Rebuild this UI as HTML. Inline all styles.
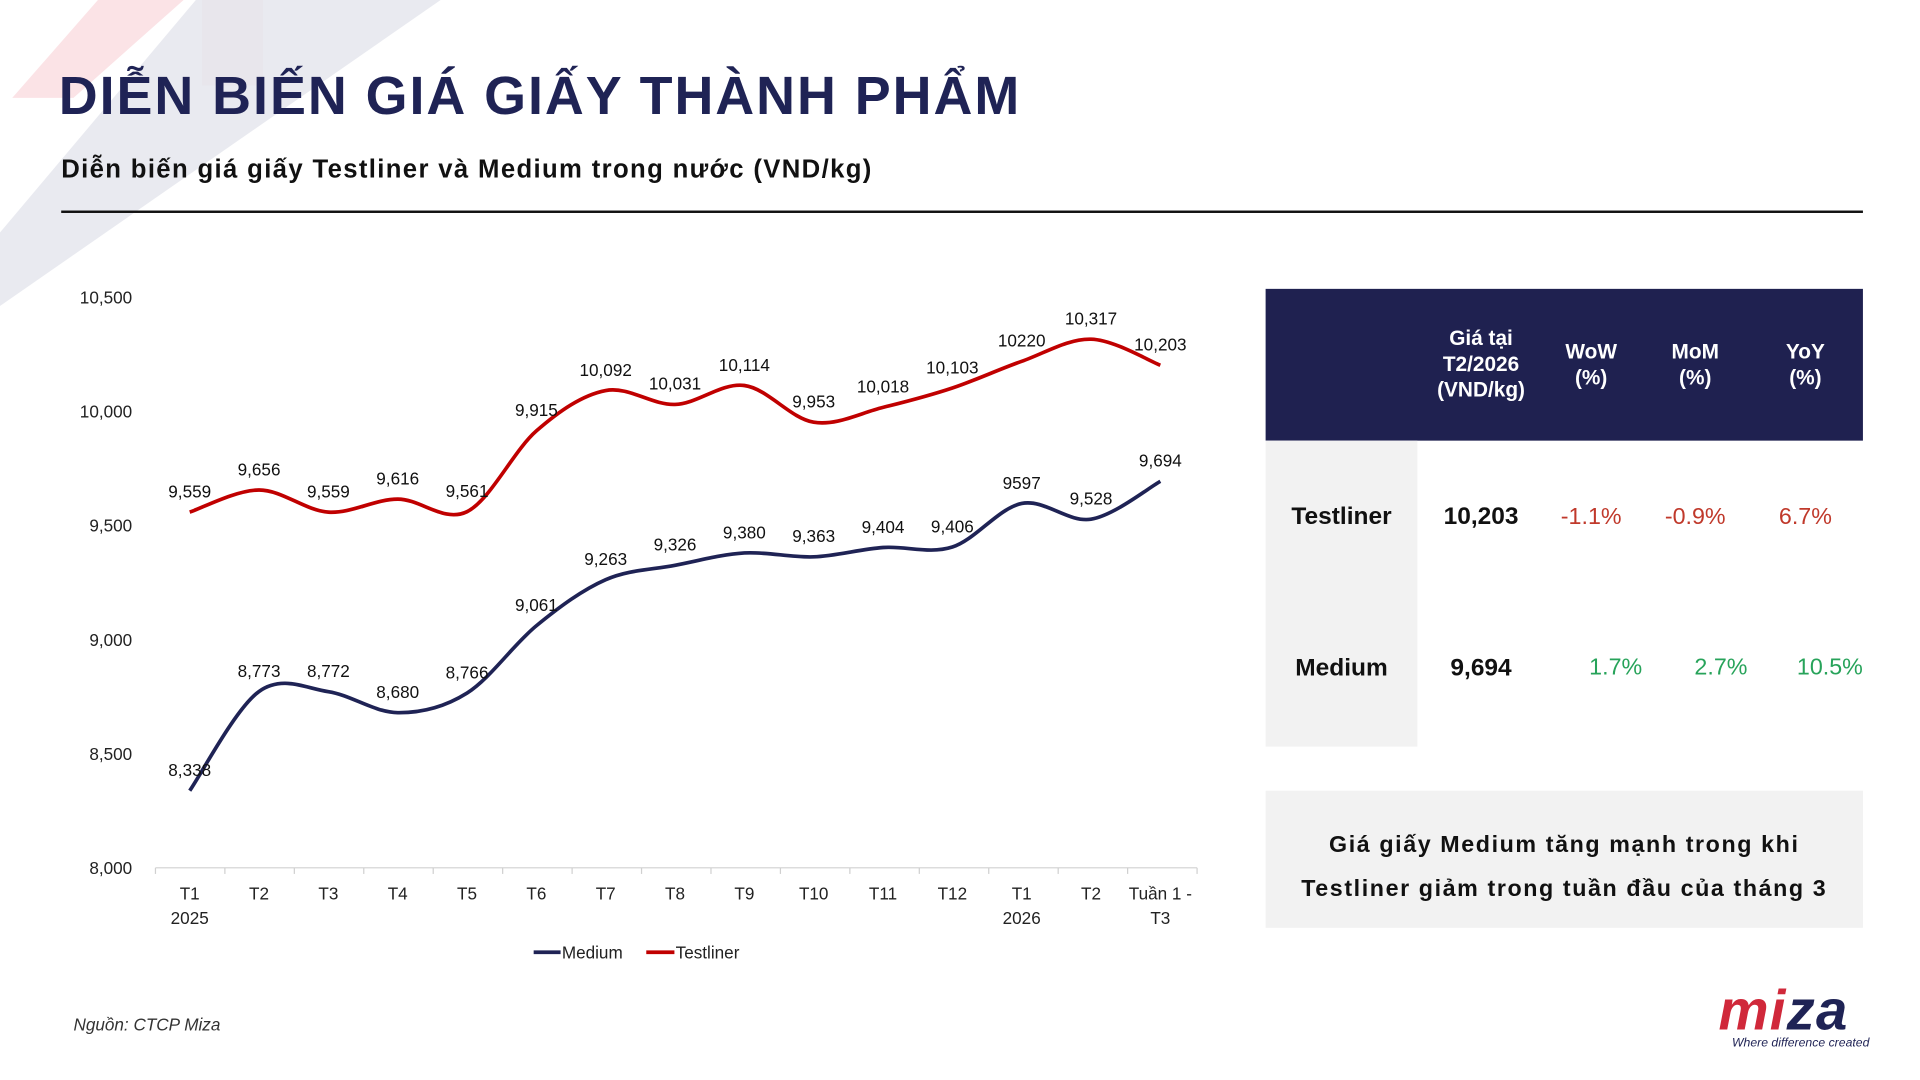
<!DOCTYPE html>
<html><head><meta charset="utf-8">
<style>
html,body{margin:0;padding:0;width:1920px;height:1080px;overflow:hidden;background:#fff;}
#wrap{position:absolute;left:0;top:0;width:1570px;height:882px;transform:scale(1.2240);transform-origin:0 0;font-family:"Liberation Sans",sans-serif;}
.abs{position:absolute;}
</style></head>
<body>
<div id="wrap">
<svg class="abs" style="left:0;top:0" width="400" height="260">
<polygon points="10,80 80,0 150,0 60,80" fill="#fbe3e6"/>
<polygon points="165,0 215,0 215,70 165,70" fill="#fbe3e6" opacity="0.7"/>
<polygon points="0,190 160,0 360,0 0,250" fill="#e4e5ec" opacity="0.8"/>
</svg>
<div class="abs" style="left:48px;top:54px;font-size:44px;font-weight:bold;color:#1f2355;letter-spacing:1.6px;white-space:nowrap">DIỄN BIẾN GIÁ GIẤY THÀNH PHẨM</div>
<div class="abs" style="left:50px;top:127px;font-size:21px;font-weight:bold;color:#111;letter-spacing:1.1px;white-space:nowrap">Diễn biến giá giấy Testliner và Medium trong nước (VND/kg)</div>
<div class="abs" style="left:50px;top:172px;width:1472px;height:2px;background:#111"></div>

<svg id="chart" class="abs" style="left:0;top:200px" width="1000" height="600"></svg>

<div class="abs" style="left:1034px;top:236px;width:488px;height:124px;background:#1f2150"></div>
<div class="abs" style="left:1160px;top:266px;width:100px;text-align:center;color:#fff;font-weight:bold;font-size:17px;line-height:21px">Giá tại<br>T2/2026<br>(VND/kg)</div>
<div class="abs" style="left:1260px;top:277px;width:80px;text-align:center;color:#fff;font-weight:bold;font-size:17px;line-height:21px">WoW<br>(%)</div>
<div class="abs" style="left:1345px;top:277px;width:80px;text-align:center;color:#fff;font-weight:bold;font-size:17px;line-height:21px">MoM<br>(%)</div>
<div class="abs" style="left:1435px;top:277px;width:80px;text-align:center;color:#fff;font-weight:bold;font-size:17px;line-height:21px">YoY<br>(%)</div>
<div class="abs" style="left:1034px;top:360px;width:124px;height:250px;background:#f2f2f2"></div>
<div class="abs" style="left:1034px;top:411px;width:124px;text-align:center;font-weight:bold;font-size:20px;color:#111">Testliner</div>
<div class="abs" style="left:1034px;top:535px;width:124px;text-align:center;font-weight:bold;font-size:20px;color:#111">Medium</div>
<div class="abs" style="left:1160px;top:411px;width:100px;text-align:center;font-weight:bold;font-size:20px;color:#111">10,203</div>
<div class="abs" style="left:1160px;top:535px;width:100px;text-align:center;font-weight:bold;font-size:20px;color:#111">9,694</div>
<div class="abs" style="left:1260px;top:412px;width:80px;text-align:center;font-size:19px;color:#c0392b">-1.1%</div>
<div class="abs" style="left:1345px;top:412px;width:80px;text-align:center;font-size:19px;color:#c0392b">-0.9%</div>
<div class="abs" style="left:1435px;top:412px;width:80px;text-align:center;font-size:19px;color:#c0392b">6.7%</div>
<div class="abs" style="left:1280px;top:535px;width:80px;text-align:center;font-size:19px;color:#27a35a">1.7%</div>
<div class="abs" style="left:1366px;top:535px;width:80px;text-align:center;font-size:19px;color:#27a35a">2.7%</div>
<div class="abs" style="left:1455px;top:535px;width:80px;text-align:center;font-size:19px;color:#27a35a">10.5%</div>

<div class="abs" style="left:1034px;top:646px;width:488px;height:112px;background:#f2f2f2"></div>
<div class="abs" style="left:1034px;top:673px;width:488px;text-align:center;font-weight:bold;font-size:19px;line-height:36px;letter-spacing:1.3px;color:#111">Giá giấy Medium tăng mạnh trong khi<br>Testliner giảm trong tuần đầu của tháng 3</div>

<div class="abs" style="left:60px;top:829px;font-size:14px;font-style:italic;color:#333">Nguồn: CTCP Miza</div>
<div class="abs" style="left:1404px;top:798px;font-size:46px;font-weight:bold;font-style:italic;letter-spacing:1px;white-space:nowrap"><span style="color:#d0283a">mi</span><span style="color:#1f2355">za</span></div>
<div class="abs" style="left:1415px;top:847px;font-size:10px;font-style:italic;color:#1f2355;white-space:nowrap">Where difference created</div>
</div>

<script>
const categories = ["T1|2025","T2","T3","T4","T5","T6","T7","T8","T9","T10","T11","T12","T1|2026","T2","Tuần 1 -|T3"];
const mediumValues = [8338,8773,8772,8680,8766,9061,9263,9326,9380,9363,9404,9406,9597,9528,9694];
const testlinerValues = [9559,9656,9559,9616,9561,9915,10092,10031,10114,9953,10018,10103,10220,10317,10203];
const mediumLabels = ["8,338","8,773","8,772","8,680","8,766","9,061","9,263","9,326","9,380","9,363","9,404","9,406","9597","9,528","9,694"];
const testlinerLabels = ["9,559","9,656","9,559","9,616","9,561","9,915","10,092","10,031","10,114","9,953","10,018","10,103","10220","10,317","10,203"];
const yTicks = [8000,8500,9000,9500,10000,10500];
const yTickLabels = ["8,000","8,500","9,000","9,500","10,000","10,500"];

const svg = document.getElementById('chart');
const NS = 'http://www.w3.org/2000/svg';
const OY = 200;
const yMin = 8000, yMax = 10500, pyBottom = 709 - OY, pyTop = 243 - OY;
const x0 = 155, x1 = 948;
function xPos(i){ return x0 + (x1 - x0) * i / (categories.length - 1); }
function yPos(v){ return pyBottom - (v - yMin) / (yMax - yMin) * (pyBottom - pyTop); }
function mk(tag, attrs){ const e = document.createElementNS(NS, tag); for (const k in attrs) e.setAttribute(k, attrs[k]); svg.appendChild(e); return e; }

const axis = mk('line', {x1:127, x2:978, y1:pyBottom, y2:pyBottom, stroke:'#d0d0d0', 'stroke-width':1});


for (let i = 0; i <= categories.length; i++) {
  const tx = 127 + (978 - 127) * i / categories.length;
  const t = mk('line', {x1:tx, x2:tx, y1:pyBottom, y2:pyBottom + 5, stroke:'#d0d0d0'});
  
  
}
yTicks.forEach((v, i) => {
  const t = mk('text', {x:108, y:yPos(v) + 5, 'text-anchor':'end', 'font-size':14, fill:'#222'});
  t.textContent = yTickLabels[i];
  
  
});
categories.forEach((c, i) => {
  c.split('|').forEach((ln, j) => {
    const t = mk('text', {x:xPos(i), y:pyBottom + 26 + j * 20, 'text-anchor':'middle', 'font-size':14, fill:'#222'});
    t.textContent = ln;
    
    
  });
});
function smoothPath(vals){
  const p = vals.map((v, i) => [xPos(i), yPos(v)]);
  let d = 'M' + p[0][0] + ',' + p[0][1];
  for (let i = 0; i < p.length - 1; i++) {
    const a = p[Math.max(0, i - 1)], b = p[i], c = p[i + 1], e = p[Math.min(p.length - 1, i + 2)];
    const c1x = b[0] + (c[0] - a[0]) / 6, c1y = b[1] + (c[1] - a[1]) / 6;
    const c2x = c[0] - (e[0] - b[0]) / 6, c2y = c[1] - (e[1] - b[1]) / 6;
    d += ' C' + c1x + ',' + c1y + ' ' + c2x + ',' + c2y + ' ' + c[0] + ',' + c[1];
  }
  return d;
}
function series(vals, labels, color, name){
  const p = mk('path', {d:smoothPath(vals), fill:'none', stroke:color, 'stroke-width':3, 'stroke-linejoin':'round'});
  
  
  vals.forEach((v, i) => {
    const t = mk('text', {x:xPos(i), y:yPos(v) - 12, 'text-anchor':'middle', 'font-size':14, fill:'#111'});
    t.textContent = labels[i];
    
    
  });
}
series(mediumValues, mediumLabels, '#1f2355', 'medium');
series(testlinerValues, testlinerLabels, '#c00000', 'testliner');

const legY = 778 - OY;
const l1 = mk('line', {x1:436, x2:458, y1:legY, y2:legY, stroke:'#1f2355', 'stroke-width':3});


const t1 = mk('text', {x:459, y:legY + 5, 'font-size':14, fill:'#222'});
t1.textContent = 'Medium';


const l2 = mk('line', {x1:528, x2:551, y1:legY, y2:legY, stroke:'#c00000', 'stroke-width':3});


const t2 = mk('text', {x:552, y:legY + 5, 'font-size':14, fill:'#222'});
t2.textContent = 'Testliner';


</script>
</body></html>
